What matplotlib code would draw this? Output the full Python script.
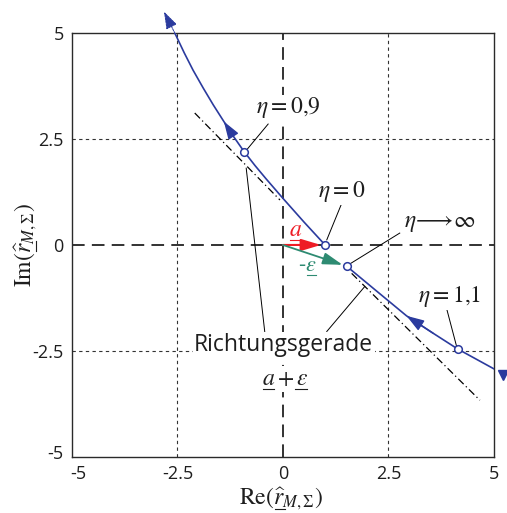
import matplotlib
matplotlib.use('Agg')
import matplotlib.pyplot as plt
from matplotlib.transforms import IdentityTransform, ScaledTranslation
from matplotlib.lines import Line2D

plt.rcParams['mathtext.fontset'] = 'stix'
plt.rcParams['font.family'] = ['Open Sans', 'DejaVu Sans']

# ---- data ----
upper_x = [1.00, 0.50, 0.00, -0.40, -0.66, -0.92, -1.18, -1.40, -1.65, -1.89, -2.13, -2.34, -2.56]
upper_y = [0.00, 0.54, 1.10, 1.56, 1.87, 2.20, 2.57, 2.91, 3.30, 3.70, 4.12, 4.53, 4.99]
upper_tip = (-2.82, 5.50)
lower_x = [1.51, 2.14, 2.93, 3.56, 4.14, 5.02]
lower_y = [-0.50, -1.02, -1.67, -2.08, -2.45, -2.93]
lower_end = (5.22, -3.07)

eta_x = [1.00, -0.92, 1.51, 4.14]
eta_y = [0.00, 2.20, -0.50, -2.45]
eta_text = [r'$\eta=0$', r'$\eta=0{,}9$', r'$\eta\!\longrightarrow\!\infty$', r'$\eta=1{,}1$']
eta_text_pos = [(1.40, 1.25), (0.14, 3.23), (3.72, 0.54), (3.94, -1.21)]
eta_leader_from = [(1.04, 0.12), (-0.86, 2.24), (1.55, -0.47), (4.12, -2.40)]
eta_leader_to = [(1.39, 0.97), (-0.35, 2.85), (2.77, 0.28), (3.86, -1.42)]

dd1_x, dd1_y = [-2.09, -0.07], [3.11, 1.06]
dd2_x, dd2_y = [1.63, 4.67], [-0.67, -3.66]

vec_a = (1.0, 0.0)
vec_meps = (1.51, -0.50)

ticks = [-5, -2.5, 0, 2.5, 5]
tick_labels = ['-5', '-2.5', '0', '2.5', '5']

blue = '#2b3b9e'
red = '#ee1c25'
green = '#2e8b72'
txt = '#1e1e1e'

fig = plt.figure(figsize=(5.07, 5.13), dpi=100)
ax = fig.add_axes([0.142, 0.109, 0.832, 0.827])
ax.set_xlim(-5, 5)
ax.set_ylim(-5, 5)
renderer = fig.canvas.get_renderer()


def text_width(s, fs):
    if s.count('$') % 2 == 1:
        s = s + '$'
    t = fig.text(0, 0, s, fontsize=fs)
    w = t.get_window_extent(renderer).width
    t.remove()
    return w


def underlined(px, py, pieces, fs, color, rotation=0, zorder=7, bbox=None, off=4, trim=1.0):
    """Text anchored at centre/baseline (px, py) in pixels, with chosen pieces underlined."""
    full = ''.join(p for p, u in pieces)
    W = text_width(full, fs)
    fig.text(px, py, full, fontsize=fs, color=color, ha='center', va='baseline',
             rotation=rotation, rotation_mode='anchor', transform=IdentityTransform(),
             zorder=zorder, bbox=bbox)
    prefix = ''
    for p, u in pieces:
        x0 = text_width(prefix, fs) if prefix.strip('$') else 0.0
        prefix += p
        x1 = text_width(prefix, fs)
        if u:
            a0 = x0 - W / 2 + trim
            a1 = x1 - W / 2 - trim
            if rotation == 90:
                xs, ys = [px + off, px + off], [py + a0, py + a1]
            else:
                xs, ys = [px + a0, px + a1], [py - off, py - off]
            fig.add_artist(Line2D(xs, ys, transform=IdentityTransform(), color=color,
                                  lw=0.8, zorder=zorder + 1))


def data_px(x, y):
    return ax.transData.transform((x, y))


# grid
for v in [-2.5, 2.5]:
    ax.axhline(v, color='#333333', lw=0.8, ls=(0, (3, 3)), zorder=1)
    ax.axvline(v, color='#333333', lw=0.8, ls=(0, (3, 3)), zorder=1)
ax.axhline(0, color='#222222', lw=1.3, ls=(0, (7, 4)), zorder=1)
ax.axvline(0, color='#222222', lw=1.3, ls=(0, (7, 4)), zorder=1)

# Richtungsgerade (dash-dot)
ax.plot(dd1_x, dd1_y, color='black', lw=0.9, ls=(0, (6, 2.5, 1, 2.5)), zorder=2)
ax.plot(dd2_x, dd2_y, color='black', lw=0.9, ls=(0, (6, 2.5, 1, 2.5)), zorder=2)

# curve branches
ax.plot(upper_x, upper_y, color=blue, lw=1.2, zorder=4)
ax.plot(lower_x, lower_y, color=blue, lw=1.2, zorder=4)

arrow_kw = dict(arrowstyle='-|>,head_length=0.9,head_width=0.3', color=blue, lw=1.0,
                shrinkA=0, shrinkB=0, mutation_scale=12)
ax.annotate('', xy=(upper_x[7], upper_y[7]), xytext=(upper_x[6], upper_y[6]),
            arrowprops=arrow_kw, zorder=5)
ax.annotate('', xy=(lower_x[2], lower_y[2]), xytext=(lower_x[3], lower_y[3]),
            arrowprops=arrow_kw, zorder=5)
ax.annotate('', xy=upper_tip, xytext=(upper_x[-1], upper_y[-1]),
            arrowprops=dict(arrowstyle='-|>,head_length=0.9,head_width=0.3', color=blue,
                            lw=0.7, ls=(0, (2, 1)), shrinkA=0, shrinkB=0, mutation_scale=12),
            annotation_clip=False, zorder=5)
ax.plot(lower_end[0], lower_end[1], marker='v', ms=7, color=blue, clip_on=False, zorder=5)

# vectors a and -eps
ax.annotate('', xy=vec_a, xytext=(0, 0),
            arrowprops=dict(arrowstyle='-|>,head_length=1.0,head_width=0.3', color=red, lw=1.5,
                            shrinkA=0, shrinkB=3, mutation_scale=12), zorder=6)
ax.annotate('', xy=vec_meps, xytext=(0, 0),
            arrowprops=dict(arrowstyle='-|>,head_length=1.0,head_width=0.3', color=green, lw=1.3,
                            shrinkA=0, shrinkB=3, mutation_scale=12), zorder=6)

# eta markers
ax.plot(eta_x, eta_y, ls='none', marker='o', ms=5.5, mfc='white', mec=blue, mew=1.1, zorder=8)

for t, p, f, to in zip(eta_text, eta_text_pos, eta_leader_from, eta_leader_to):
    ax.plot([f[0], to[0]], [f[1], to[1]], color='black', lw=0.7, zorder=3)
    ax.text(p[0], p[1], t, fontsize=17, ha='center', va='center', color=txt, zorder=7,
            bbox=dict(facecolor='white', edgecolor='none', pad=0.5))

# Richtungsgerade label + leaders
ax.plot([-0.87, -0.43], [1.81, -2.05], color='black', lw=0.7, zorder=3)
ax.plot([1.94, 1.04], [-0.98, -2.04], color='black', lw=0.7, zorder=3)
ax.text(0.02, -2.36, 'Richtungsgerade', fontsize=16.5, ha='center', va='center', color=txt,
        zorder=7, bbox=dict(facecolor='white', edgecolor='none', pad=1))

# axes styling
ax.set_xticks(ticks)
ax.set_xticklabels(tick_labels)
ax.set_yticks(ticks)
ax.set_yticklabels(tick_labels)
ax.tick_params(axis='x', length=0, labelsize=13, pad=6, colors=txt)
ax.tick_params(axis='y', length=0, labelsize=13, pad=6, colors=txt)
xl0 = ax.get_xticklabels()[0]
xl0.set_transform(xl0.get_transform() + ScaledTranslation(6 / 100, 0, fig.dpi_scale_trans))
yl0 = ax.get_yticklabels()[0]
yl0.set_transform(yl0.get_transform() + ScaledTranslation(0, 5 / 100, fig.dpi_scale_trans))
for s in ax.spines.values():
    s.set_color('#2a2a2a')
    s.set_linewidth(1.0)

# underlined labels
px, py = data_px(0.31, 0.21)
underlined(px, py, [(r'$a$', True)], 17, red)
px, py = data_px(0.59, -0.61)
underlined(px, py, [('-', False), (r'$\varepsilon$', True)], 16, green)
px, py = data_px(0.05, -3.30)
underlined(px, py, [(r'$a', True), (r'+', False), (r'\varepsilon$', True)], 17, txt,
           bbox=dict(facecolor='white', edgecolor='none', pad=0.5))

underlined(281, 513 - 504, [(r'$\mathrm{Re}(', False), (r'\widehat{r}', True), (r'_{M,\Sigma})$', False)],
           17, txt, off=5)
underlined(31, 513 - 245, [(r'$\mathrm{Im}(', False), (r'\widehat{r}', True), (r'_{M,\Sigma})$', False)],
           17, txt, rotation=90, off=5)

fig.savefig('out.png', dpi=100)
